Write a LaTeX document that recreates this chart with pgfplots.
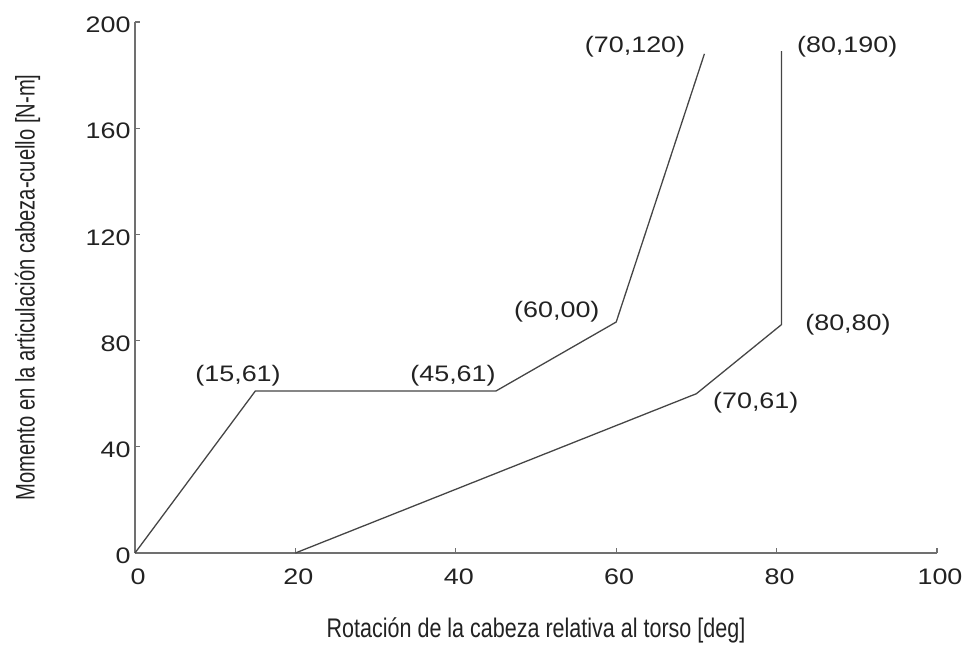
\documentclass[border=0pt]{standalone}
\usepackage{pgfplots}
\pgfplotsset{compat=1.18}
\usepackage{fontspec}
\setmainfont{Liberation Sans}
\newfontfamily\widefont[FakeStretch=1.2]{Liberation Sans}
\newfontfamily\condfont[FakeStretch=0.8]{Liberation Sans}
\newfontfamily\condfonty[FakeStretch=0.75]{Liberation Sans}
\definecolor{axgray}{HTML}{707070}
\definecolor{lngray}{HTML}{454545}
\definecolor{txt}{HTML}{222222}
\begin{document}
\begin{tikzpicture}
\useasboundingbox (-135bp,-98bp) rectangle (830bp,553bp);
\begin{axis}[
  scale only axis, width=802bp, height=531bp,
  xmin=0, xmax=100, ymin=0, ymax=200,
  axis lines=left, axis line style={-, draw=axgray, line width=1.5bp},
  tick align=inside, major tick length=5bp,
  tick style={draw=axgray, line width=1.2bp},
  xtick={0,20,40,60,80,100}, ytick={0,40,80,120,160,200},
  /pgf/number format/assume math mode=true,
  tick label style={font=\widefont\fontsize{22.5}{22.5}\selectfont, text=txt},
  xticklabel style={yshift=-12bp, xshift=3bp},
  yticklabel style={xshift=-1bp, yshift=-3bp},
  xlabel={Rotación de la cabeza relativa al torso [deg]},
  ylabel={Momento en la articulación cabeza-cuello [N-m]},
  xlabel style={font=\condfont\fontsize{27}{27}\selectfont, text=txt, at={(axis description cs:0.5,-0.145)}, anchor=center},
  ylabel style={font=\condfonty\fontsize{27}{27}\selectfont, text=txt, at={(axis description cs:-0.134,0.5)}, anchor=center},
  clip=false,
]
\addplot[lngray, line width=1.3bp] coordinates {(0,0) (15,61) (45,61) (60,87) (71,188)};
\addplot[lngray, line width=1.3bp] coordinates {(20,0) (70,60) (80.6,86) (80.6,189)};
\begin{scope}[every node/.style={font=\widefont\fontsize{22.5}{22.5}\selectfont, text=txt}]
\node at (axis cs:12.85,66.6) {(15,61)};
\node at (axis cs:39.65,66.6) {(45,61)};
\node at (axis cs:52.6,90.8) {(60,00)};
\node at (axis cs:62.35,190.6) {(70,120)};
\node at (axis cs:88.8,190.6) {(80,190)};
\node at (axis cs:88.9,85.9) {(80,80)};
\node at (axis cs:77.4,56.5) {(70,61)};
\end{scope}
\end{axis}
\end{tikzpicture}
\end{document}
